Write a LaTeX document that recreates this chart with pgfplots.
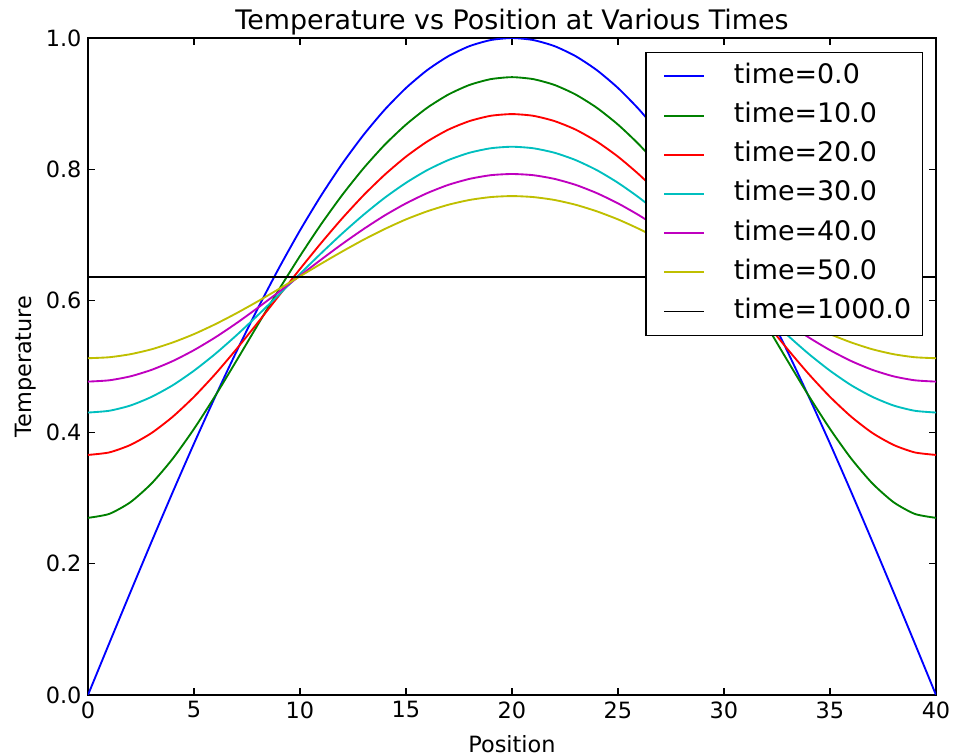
\documentclass[border=0pt]{standalone}
\usepackage{fontspec}
\setmainfont{DejaVu Sans}
\usepackage{pgfplots}
\pgfplotsset{compat=1.18}
\usetikzlibrary{calc}
\definecolor{mb}{rgb}{0,0,1}
\definecolor{mg}{rgb}{0,0.5,0}
\definecolor{mr}{rgb}{1,0,0}
\definecolor{mc}{rgb}{0,0.75,0.75}
\definecolor{mm}{rgb}{0.75,0,0.75}
\definecolor{my}{rgb}{0.75,0.75,0}
\begin{document}
\begin{tikzpicture}
\begin{axis}[
  name=ax,
  scale only axis,
  width=454.3pt, height=351.96pt,
  xmin=0, xmax=40, ymin=0, ymax=1,
  xtick={0,5,...,40},
  ytick={0,0.2,0.4,0.6,0.8,1.0},
  yticklabel style={/pgf/number format/fixed,/pgf/number format/fixed zerofill,/pgf/number format/precision=1},
  /pgf/number format/assume math mode=true,
  tick label style={font=\fontsize{12}{14}\selectfont},
  label style={font=\fontsize{12}{14}\selectfont},
  tick align=inside,
  major tick length=3.5pt,
  axis line style={line width=0.8pt},
  every tick/.style={black, line width=0.6pt},
  title={Temperature vs Position at Various Times},
  title style={font=\fontsize{14.4}{17}\selectfont, at={(axis description cs:0.5,1)}, anchor=base, yshift=-1.2pt, inner sep=0pt},
  xlabel={Position},
  ylabel={Temperature},
  xlabel style={at={(axis description cs:0.5,-0.0868)}, anchor=base, inner sep=0pt},
  ylabel style={at={(axis description cs:-0.0666,0.5)}, anchor=base, rotate=0, inner sep=0pt},
  legend cell align=left,
  legend style={at={(axis description cs:1,1)}, anchor=north east, xshift=-7pt, yshift=-7.5pt,
    font=\fontsize{14.4}{17}\selectfont, draw=black, line width=0.6pt,
    inner xsep=4pt, inner ysep=4pt, row sep=3.5pt,
    nodes={text height=10.5pt, text depth=3pt, inner ysep=2pt, inner xsep=2pt}},
  legend image code/.code={\path (-5.4pt,0pt); \draw[#1, line width=1pt] (0pt,0pt) -- (21.4pt,0pt);},
  every axis plot/.append style={line width=1pt, smooth, tension=0.4},
]
\addplot[mb] coordinates {(0,0) (1,0.0785) (2,0.1564) (3,0.2334) (4,0.3090) (5,0.3827) (6,0.4540) (7,0.5225) (8,0.5878) (9,0.6494) (10,0.7071) (11,0.7604) (12,0.8090) (13,0.8526) (14,0.8910) (15,0.9239) (16,0.9511) (17,0.9724) (18,0.9877) (19,0.9969) (20,1.0) (21,0.9969) (22,0.9877) (23,0.9724) (24,0.9511) (25,0.9239) (26,0.8910) (27,0.8526) (28,0.8090) (29,0.7604) (30,0.7071) (31,0.6494) (32,0.5878) (33,0.5225) (34,0.4540) (35,0.3827) (36,0.3090) (37,0.2334) (38,0.1564) (39,0.0785) (40,0)};
\addlegendentry{\hspace{13.3pt}time=0.0}
\addplot[mg] coordinates {(0,0.2696) (1,0.2756) (2,0.2934) (3,0.3220) (4,0.3598) (5,0.4050) (6,0.4552) (7,0.5086) (8,0.5630) (9,0.6167) (10,0.6682) (11,0.7167) (12,0.7614) (13,0.8018) (14,0.8376) (15,0.8682) (16,0.8938) (17,0.9140) (18,0.9286) (19,0.9374) (20,0.9404) (21,0.9374) (22,0.9286) (23,0.9140) (24,0.8938) (25,0.8682) (26,0.8376) (27,0.8018) (28,0.7614) (29,0.7167) (30,0.6682) (31,0.6167) (32,0.5630) (33,0.5086) (34,0.4552) (35,0.4050) (36,0.3598) (37,0.3220) (38,0.2934) (39,0.2756) (40,0.2696)};
\addlegendentry{\hspace{13.3pt}time=10.0}
\addplot[mr] coordinates {(0,0.3654) (1,0.3692) (2,0.3806) (3,0.3988) (4,0.4236) (5,0.4538) (6,0.4884) (7,0.5263) (8,0.5664) (9,0.6075) (10,0.6484) (11,0.6881) (12,0.7258) (13,0.7607) (14,0.7920) (15,0.8194) (16,0.8424) (17,0.8606) (18,0.8736) (19,0.8816) (20,0.8842) (21,0.8816) (22,0.8736) (23,0.8606) (24,0.8424) (25,0.8194) (26,0.7920) (27,0.7607) (28,0.7258) (29,0.6881) (30,0.6484) (31,0.6075) (32,0.5664) (33,0.5263) (34,0.4884) (35,0.4538) (36,0.4236) (37,0.3988) (38,0.3806) (39,0.3692) (40,0.3654)};
\addlegendentry{\hspace{13.3pt}time=20.0}
\addplot[mc] coordinates {(0,0.4299) (1,0.4326) (2,0.4406) (3,0.4538) (4,0.4715) (5,0.4936) (6,0.5191) (7,0.5474) (8,0.5777) (9,0.6092) (10,0.6410) (11,0.6724) (12,0.7027) (13,0.7310) (14,0.7569) (15,0.7796) (16,0.7989) (17,0.8142) (18,0.8254) (19,0.8322) (20,0.8345) (21,0.8322) (22,0.8254) (23,0.8142) (24,0.7989) (25,0.7796) (26,0.7569) (27,0.7310) (28,0.7027) (29,0.6724) (30,0.6410) (31,0.6092) (32,0.5777) (33,0.5474) (34,0.5191) (35,0.4936) (36,0.4715) (37,0.4538) (38,0.4406) (39,0.4326) (40,0.4299)};
\addlegendentry{\hspace{13.3pt}time=30.0}
\addplot[mm] coordinates {(0,0.4770) (1,0.4790) (2,0.4850) (3,0.4949) (4,0.5083) (5,0.5249) (6,0.5442) (7,0.5658) (8,0.5891) (9,0.6134) (10,0.6382) (11,0.6628) (12,0.6867) (13,0.7092) (14,0.7300) (15,0.7483) (16,0.7639) (17,0.7765) (18,0.7856) (19,0.7912) (20,0.7930) (21,0.7912) (22,0.7856) (23,0.7765) (24,0.7639) (25,0.7483) (26,0.7300) (27,0.7092) (28,0.6867) (29,0.6628) (30,0.6382) (31,0.6134) (32,0.5891) (33,0.5658) (34,0.5442) (35,0.5249) (36,0.5083) (37,0.4949) (38,0.4850) (39,0.4790) (40,0.4770)};
\addlegendentry{\hspace{13.3pt}time=40.0}
\addplot[my] coordinates {(0,0.5126) (1,0.5141) (2,0.5187) (3,0.5262) (4,0.5366) (5,0.5493) (6,0.5643) (7,0.5810) (8,0.5990) (9,0.6179) (10,0.6372) (11,0.6565) (12,0.6752) (13,0.6930) (14,0.7093) (15,0.7239) (16,0.7362) (17,0.7462) (18,0.7535) (19,0.7579) (20,0.7594) (21,0.7579) (22,0.7535) (23,0.7462) (24,0.7362) (25,0.7239) (26,0.7093) (27,0.6930) (28,0.6752) (29,0.6565) (30,0.6372) (31,0.6179) (32,0.5990) (33,0.5810) (34,0.5643) (35,0.5493) (36,0.5366) (37,0.5262) (38,0.5187) (39,0.5141) (40,0.5126)};
\addlegendentry{\hspace{13.3pt}time=50.0}
\addplot[black] coordinates {(0,0.6366) (40,0.6366)};
\addlegendentry{\hspace{13.3pt}time=1000.0}
\end{axis}
\pgfresetboundingbox
\path ($(ax.south west)+(-47.14pt,-32.68pt)$) rectangle ($(ax.north east)+(9.11pt,20.36pt)$);
\end{tikzpicture}
\end{document}
